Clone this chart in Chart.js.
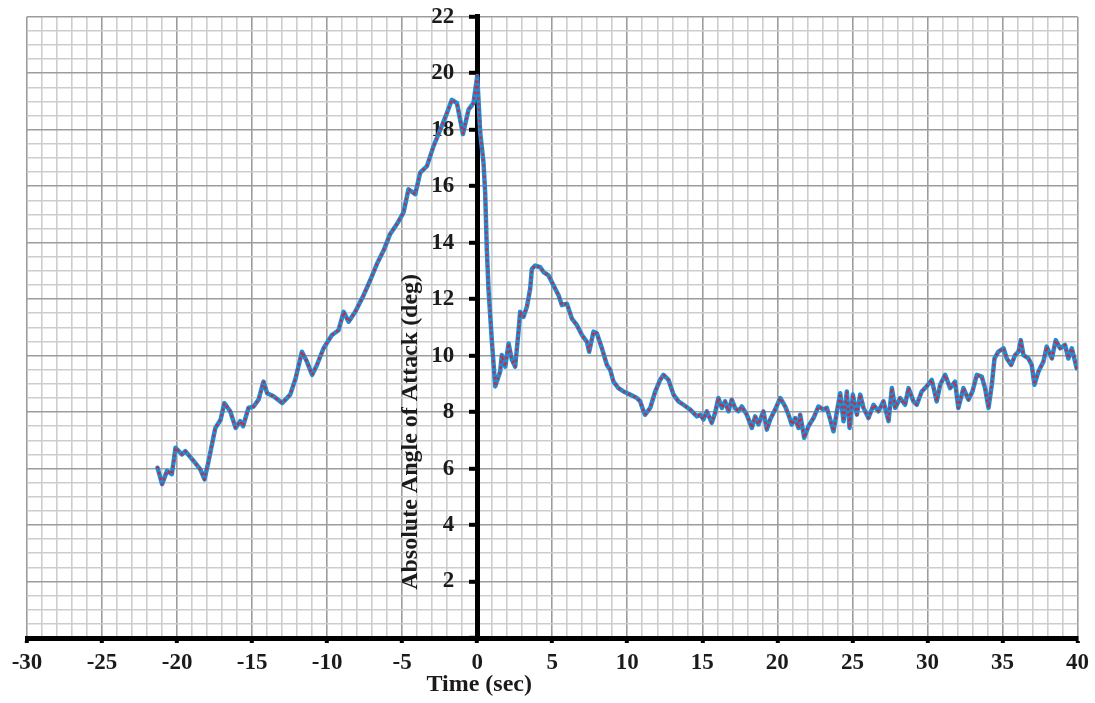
<!DOCTYPE html>
<html>
<head>
<meta charset="utf-8">
<script src="https://cdn.jsdelivr.net/npm/chart.js@4.4.1/dist/chart.umd.min.js"></script>
<style>
  html, body { margin: 0; padding: 0; background: #fff; }
  canvas { display: block; }
</style>
</head>
<body>
<canvas id="aoa" width="1095" height="703"></canvas>
<script>
// Time relative to the event (s)
const timeSec = [
  -21.3, -21.0, -20.67, -20.35, -20.1, -19.67, -19.45, -18.9, -18.45, -18.17,
  -17.9, -17.45, -17.1, -16.85, -16.46, -16.1, -15.8, -15.6, -15.24, -14.9,
  -14.57, -14.24, -14.0, -13.57, -13.0, -12.46, -12.1, -11.68, -11.35, -11.0,
  -10.68, -10.24, -9.68, -9.24, -8.9, -8.57, -8.13, -7.57, -7.13, -6.68,
  -6.24, -5.8, -5.35, -4.91, -4.58, -4.13, -3.8, -3.35, -2.91, -2.46,
  -2.02, -1.69, -1.35, -0.95, -0.58, -0.25, 0.0,
  0.2, 0.42, 0.53, 0.64, 0.75, 0.98, 1.2, 1.53, 1.64, 1.87,
  2.09, 2.31, 2.53, 2.75, 2.86, 3.08, 3.31, 3.53, 3.64, 3.86,
  4.2, 4.42, 4.75, 5.08, 5.42, 5.64, 5.98, 6.31, 6.64, 6.98,
  7.31, 7.46, 7.75, 7.97, 8.31, 8.64, 8.86, 9.08, 9.41, 9.75,
  10.19, 10.64, 10.86, 11.08, 11.19, 11.53, 11.86, 12.19, 12.41, 12.75,
  13.08, 13.41, 13.74, 14.19, 14.64,
  14.86, 15.08, 15.3, 15.63, 15.85, 16.07, 16.3, 16.52, 16.74, 16.96,
  17.18, 17.4, 17.63, 17.96, 18.3, 18.52, 18.74, 19.07, 19.3, 19.52,
  19.85, 20.19, 20.52, 20.74, 20.96, 21.19, 21.41, 21.52, 21.79, 22.07,
  22.41, 22.74, 23.07, 23.3, 23.52, 23.74, 23.97, 24.19, 24.41, 24.63,
  24.81, 25.03, 25.3, 25.52, 25.74, 26.07, 26.41, 26.74, 27.07, 27.41,
  27.63, 27.85, 28.18, 28.51, 28.74, 29.07, 29.29, 29.62, 29.95, 30.29,
  30.62, 30.85, 31.18, 31.51, 31.84, 32.06, 32.4, 32.73, 33.0, 33.29,
  33.62, 33.84, 34.07, 34.29, 34.47, 34.73, 35.07, 35.29, 35.58, 35.84,
  36.07, 36.22, 36.4, 36.73, 36.95, 37.13, 37.4, 37.73, 37.95, 38.29,
  38.55, 38.84, 39.17, 39.39, 39.62, 39.95
];

// Absolute angle of attack (deg)
const angleDeg = [
  6.03, 5.45, 5.92, 5.8, 6.74, 6.5, 6.62, 6.27, 5.97, 5.62,
  6.27, 7.44, 7.73, 8.32, 8.03, 7.44, 7.68, 7.5, 8.15, 8.2,
  8.44, 9.08, 8.67, 8.56, 8.32, 8.62, 9.2, 10.14, 9.79, 9.32,
  9.67, 10.26, 10.73, 10.9, 11.55, 11.2, 11.55, 12.14, 12.67, 13.25,
  13.72, 14.31, 14.66, 15.07, 15.89, 15.72, 16.48, 16.71, 17.42, 18.0,
  18.59, 19.06, 18.94, 17.85, 18.71, 18.94, 19.9,
  17.9, 16.83, 15.77, 13.78, 12.37, 10.49, 8.91, 9.44, 10.02, 9.61,
  10.43, 9.85, 9.61, 10.85, 11.55, 11.37, 11.73, 12.37, 13.07, 13.19,
  13.13, 12.96, 12.84, 12.49, 12.14, 11.79, 11.84, 11.31, 11.08, 10.73,
  10.49, 10.14, 10.85, 10.79, 10.26, 9.67, 9.5, 9.08, 8.85, 8.73,
  8.62, 8.5, 8.38, 8.03, 7.91, 8.15, 8.73, 9.14, 9.32, 9.14,
  8.62, 8.38, 8.26, 8.09, 7.85,
  7.91, 7.74, 8.03, 7.62, 7.97, 8.5, 8.15, 8.38, 8.03, 8.44,
  8.15, 8.03, 8.2, 7.91, 7.44, 7.85, 7.56, 8.03, 7.38, 7.74,
  8.09, 8.5, 8.2, 7.91, 7.56, 7.79, 7.44, 7.91, 7.09, 7.5,
  7.79, 8.2, 8.09, 8.15, 7.74, 7.32, 8.03, 8.67, 7.68, 8.73,
  7.44, 8.62, 7.91, 8.62, 8.15, 7.79, 8.26, 8.03, 8.38, 7.68,
  8.85, 8.15, 8.5, 8.26, 8.85, 8.38, 8.26, 8.73, 8.91, 9.14,
  8.38, 8.97, 9.32, 8.85, 9.08, 8.15, 8.85, 8.44, 8.73, 9.32,
  9.26, 8.85, 8.15, 8.97, 9.9, 10.14, 10.26, 9.9, 9.67, 10.02,
  10.14, 10.55, 10.02, 9.9, 9.67, 8.97, 9.44, 9.79, 10.32, 9.9,
  10.55, 10.26, 10.38, 9.9, 10.26, 9.55
];

// Labelled tick values
const xTickLabels = [-30, -25, -20, -15, -10, -5, 0, 5, 10, 15, 20, 25, 30, 35, 40];
const yTickLabels = [2, 4, 6, 8, 10, 12, 14, 16, 18, 20, 22];

const xTitle = 'Time (sec)';
const yTitle = 'Absolute Angle of Attack (deg)';

const points = timeSec.map((t, i) => ({ x: t, y: angleDeg[i] }));

const TEXT = '#1b1b1b';
const SERIF = '"Liberation Serif", "Times New Roman", serif';
const MINOR = '#cdcdcd';
const MAJOR = '#9c9c9c';

// Axis titles: x title centred under the zero line, y title beside the zero axis
const axisTitles = {
  id: 'axisTitles',
  afterDraw(chart) {
    const { ctx, scales: { x, y } } = chart;
    ctx.save();
    ctx.fillStyle = TEXT;
    ctx.font = 'bold 24px ' + SERIF;
    ctx.textAlign = 'center';
    ctx.textBaseline = 'middle';
    ctx.fillText(xTitle, x.getPixelForValue(0) + 2, chart.height - 18);
    ctx.translate(x.getPixelForValue(0) - 66, y.getPixelForValue(7.3));
    ctx.rotate(-Math.PI / 2);
    ctx.fillText(yTitle, 0, 0);
    ctx.restore();
  }
};

new Chart(document.getElementById('aoa'), {
  type: 'line',
  data: {
    datasets: [
      // dotted red trace sits on top of the blue trace
      {
        data: points,
        borderColor: '#c0304a',
        borderWidth: 2.9,
        borderDash: [0.1, 5.5],
        borderCapStyle: 'round',
        pointRadius: 0,
        tension: 0
      },
      {
        data: points,
        borderColor: '#1a8fd8',
        borderWidth: 4.5,
        borderJoinStyle: 'round',
        borderCapStyle: 'round',
        pointRadius: 0,
        tension: 0
      }
    ]
  },
  options: {
    responsive: false,
    animation: false,
    events: [],
    layout: { padding: { left: 27, right: 17, top: 12, bottom: 0 } },
    plugins: { legend: { display: false }, tooltip: { enabled: false } },
    scales: {
      x: {
        type: 'linear',
        min: -30,
        max: 40,
        afterFit(scale) { scale.height = 65; },
        ticks: {
          stepSize: 1,
          autoSkip: false,
          maxRotation: 0,
          padding: 6,
          color: TEXT,
          font: { family: SERIF, size: 23, weight: 'bold' },
          callback: v => xTickLabels.includes(v) ? String(v) : ''
        },
        grid: {
          color: c => c.tick.value === 0 ? 'rgba(0,0,0,0)' : (c.tick.value % 5 === 0 ? MAJOR : MINOR),
          lineWidth: 1.6,
          tickLength: 5,
          tickWidth: 4,
          tickColor: c => c.tick.value % 5 === 0 ? '#000' : 'rgba(0,0,0,0)'
        },
        border: { color: '#000', width: 5 }
      },
      y: {
        type: 'linear',
        min: 0,
        max: 22,
        position: { x: 0 },
        ticks: {
          stepSize: 0.5,
          autoSkip: false,
          color: TEXT,
          font: { family: SERIF, size: 23, weight: 'bold' },
          // trailing spaces keep the right-aligned labels clear of the zero axis
          callback: v => yTickLabels.includes(v) ? String(v) + '    ' : ''
        },
        grid: {
          color: c => c.tick.value === 0 ? 'rgba(0,0,0,0)' : (c.tick.value % 2 === 0 ? MAJOR : MINOR),
          lineWidth: 1.6,
          tickLength: 6,
          tickWidth: 4,
          tickColor: c => c.tick.value % 2 === 0 ? '#000' : 'rgba(0,0,0,0)'
        },
        border: { color: '#000', width: 5 }
      }
    }
  },
  plugins: [axisTitles]
});
</script>
</body>
</html>
